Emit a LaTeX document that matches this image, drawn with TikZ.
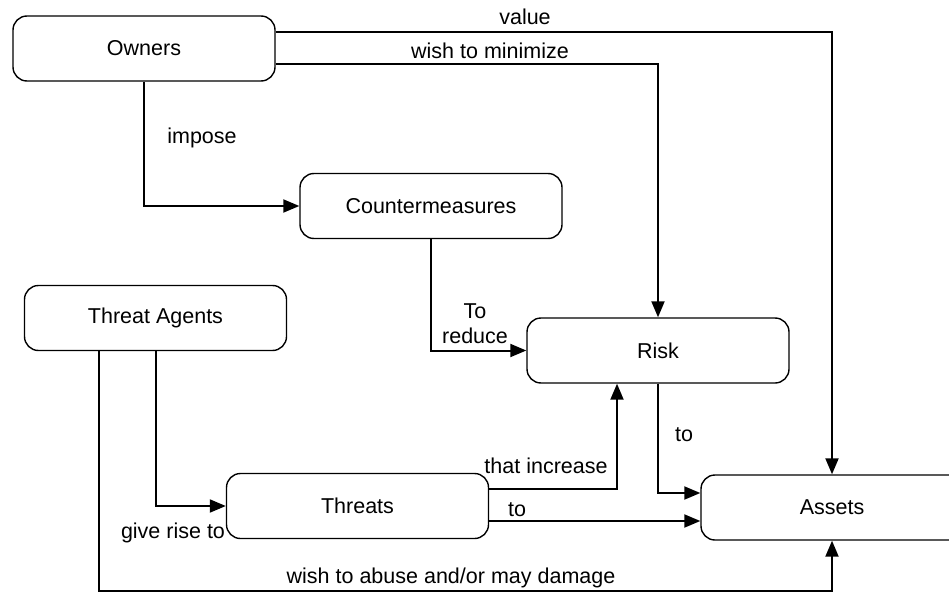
\documentclass[tikz,border=0pt]{standalone}
\usepackage{fontspec}
\setmainfont{Liberation Sans}
\usetikzlibrary{arrows.meta,calc}
\begin{document}
\begin{tikzpicture}[x=1pt,y=-1pt,
  box/.style={draw,line width=1.4pt,rounded corners=14pt,minimum width=262pt,minimum height=65pt,inner sep=0pt,
    font=\fontsize{21.5}{25}\selectfont},
  lbl/.style={inner sep=0pt,font=\fontsize{21.5}{25}\selectfont,align=center},
  conn/.style={line width=2pt},
  arr/.style={conn,-{Triangle[length=16pt,width=13pt]}}]
\useasboundingbox (0,0) rectangle (949,596);
\node[box] (owners) at (144,48.5) {Owners};
\node[box] (cm) at (431,206) {Countermeasures};
\node[box] (ta) at (155.5,318) {Threat Agents};
\node[box] (risk) at (658,350.5) {Risk};
\node[box] (threats) at (357.5,506) {Threats};
\node[box] (assets) at (832,507.5) {Assets};
\coordinate (abuse) at (99,591);
% connectors
\draw[arr] (owners.east |- 0,32) -| (assets.north);
\draw[arr] (owners.east |- 0,64) -| (risk.north);
\draw[arr] (owners.south) |- (cm.west);
\draw[arr] (cm.south) |- (risk.west);
\draw[arr] (ta.south) |- (threats.west);
\draw[arr] (ta.south -| abuse) -- (abuse) -| (assets.south);
\draw[arr] (threats.east |- 0,489) -| ($(risk.south)+(-41,0)$);
\draw[arr] (threats.east |- 0,521) -- (assets.west |- 0,521);
\draw[arr] (risk.south) |- (assets.west |- 0,493);
% labels
\node[lbl] (lvalue) at (525,17) {value};
\node[lbl] (lmin) at (490,51) {wish to minimize};
\node[lbl] (limpose) at (202,138) {impose};
\node[lbl] (lreduce) at (475,324) {To\\reduce};
\node[lbl] (lgive) at (173,533) {give rise to};
\node[lbl] (labuse) at (451,578) {wish to abuse and/or may damage};
\node[lbl] (linc) at (546,466) {that increase};
\node[lbl] (lto1) at (517,510) {to};
\node[lbl] (lto2) at (684,435) {to};
\end{tikzpicture}
\end{document}
